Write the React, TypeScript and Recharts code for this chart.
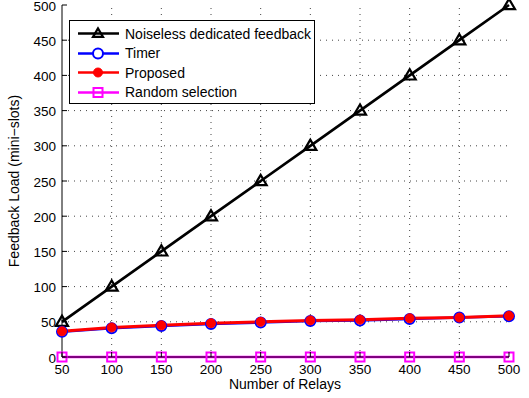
import React from "react";
import { LineChart, Line, XAxis, YAxis, ReferenceLine, Legend, Label } from "recharts";

const relays = [50, 100, 150, 200, 250, 300, 350, 400, 450, 500];
const noiseless = [50, 100, 150, 200, 250, 300, 350, 400, 450, 500];
const timer = [36, 41, 44, 47, 49, 51, 52, 54, 56, 58];
const proposed = [36.5, 42, 45, 48, 50, 52, 53, 55, 56, 58.5];
const randomSel = [0, 0, 0, 0, 0, 0, 0, 0, 0, 0];
const xTicks = [50, 100, 150, 200, 250, 300, 350, 400, 450, 500];
const yTicks = [0, 50, 100, 150, 200, 250, 300, 350, 400, 450, 500];

const seriesNames = ["Noiseless dedicated feedback", "Timer", "Proposed", "Random selection"];

const data = relays.map((r, i) => ({
  relays: r,
  noiseless: noiseless[i],
  timer: timer[i],
  proposed: proposed[i],
  random: randomSel[i],
}));

const FONT = "'Liberation Sans', Arial, Helvetica, sans-serif";
const TICK = 5;
const TICKFS = 13.5;
const LABELFS = 14;
const GRID = "#444";

const Tri = ({ cx, cy, size = 10 }: any) => {
  const h = size * 0.85;
  return (
    <polygon
      points={`${cx},${cy - h * 0.6} ${cx - size / 2},${cy + h * 0.4} ${cx + size / 2},${cy + h * 0.4}`}
      fill="none"
      stroke="#000"
      strokeWidth={2.2}
      strokeLinejoin="miter"
    />
  );
};
const BlueCircle = ({ cx, cy }: any) => (
  <circle cx={cx} cy={cy} r={5} fill="#fff" stroke="#0000ff" strokeWidth={2} />
);
const RedDot = ({ cx, cy }: any) => (
  <circle cx={cx} cy={cy} r={4.5} fill="#ff0000" stroke="#ff0000" strokeWidth={1} />
);
const MagSquare = ({ cx, cy }: any) => (
  <rect x={cx - 4.5} y={cy - 4.5} width={9} height={9} fill="none" stroke="#ff00ff" strokeWidth={2} />
);

const XTickBottom = ({ x, y, payload }: any) => (
  <g>
    <line x1={x} x2={x} y1={y} y2={y - TICK} stroke="#000" strokeWidth={1} />
    <text x={x} y={y + 16.5} textAnchor="middle" fontSize={TICKFS} fontFamily={FONT} fill="#000">
      {payload.value}
    </text>
  </g>
);
const XTickTop = ({ x, y }: any) => (
  <line x1={x} x2={x} y1={y} y2={y + TICK} stroke="#000" strokeWidth={1} />
);
const YTickLeft = ({ x, y, payload }: any) => (
  <g>
    <line x1={x} x2={x + TICK} y1={y} y2={y} stroke="#000" strokeWidth={1} />
    <text x={x - 6} y={y + 5.5} textAnchor="end" fontSize={TICKFS} fontFamily={FONT} fill="#000">
      {payload.value}
    </text>
  </g>
);
const YTickRight = ({ x, y }: any) => (
  <line x1={x} x2={x - TICK} y1={y} y2={y} stroke="#000" strokeWidth={1} />
);

const LegendBox = () => {
  const rows = [
    { color: "#000", marker: "tri" },
    { color: "#0000ff", marker: "circle" },
    { color: "#ff0000", marker: "dot" },
    { color: "#ff00ff", marker: "square" },
  ];
  return (
    <div
      style={{
        border: "1px solid #000",
        background: "#fff",
        width: 246,
        height: 84,
        boxSizing: "border-box",
        paddingTop: 3,
        fontFamily: FONT,
        fontSize: LABELFS,
        color: "#000",
      }}
    >
      {rows.map((r, i) => (
        <div key={i} style={{ display: "flex", alignItems: "center", height: 19.5 }}>
          <svg width={55} height={19} style={{ display: "block" }}>
            <line x1={8} x2={49} y1={9.5} y2={9.5} stroke={r.color} strokeWidth={2.5} />
            {r.marker === "tri" && <Tri cx={28} cy={9.5} size={10} />}
            {r.marker === "circle" && <BlueCircle cx={28} cy={9.5} />}
            {r.marker === "dot" && <RedDot cx={28} cy={9.5} />}
            {r.marker === "square" && <MagSquare cx={28} cy={9.5} />}
          </svg>
          <span style={{ whiteSpace: "nowrap" }}>{seriesNames[i]}</span>
        </div>
      ))}
    </div>
  );
};

export default function App() {
  const innerX = xTicks.slice(1, -1);
  const innerY = yTicks.slice(1, -1);
  return (
    <div style={{ position: "absolute", left: 0, top: 0, width: 529, height: 398, background: "#fff" }}>
      <LineChart
        width={529}
        height={398}
        data={data}
        margin={{ top: 5, right: 20, bottom: 0, left: 0 }}
      >
        <XAxis
          xAxisId="b"
          dataKey="relays"
          type="number"
          domain={[50, 500]}
          ticks={xTicks}
          height={41}
          tickSize={0}
          tickMargin={0}
          tickLine={false}
          axisLine={{ stroke: "#000", strokeWidth: 1 }}
          tick={<XTickBottom />}
          interval={0}
        >
          <Label
            content={() => (
              <text x={285} y={389} textAnchor="middle" fontSize={LABELFS} fontFamily={FONT} fill="#000">
                Number of Relays
              </text>
            )}
          />
        </XAxis>
        <XAxis
          xAxisId="t"
          orientation="top"
          dataKey="relays"
          type="number"
          domain={[50, 500]}
          ticks={xTicks}
          height={0}
          tickSize={0}
          tickMargin={0}
          tickLine={false}
          axisLine={{ stroke: "#000", strokeWidth: 1 }}
          tick={<XTickTop />}
          interval={0}
        />
        <YAxis
          yAxisId="l"
          type="number"
          domain={[0, 500]}
          ticks={yTicks}
          width={62}
          tickSize={0}
          tickMargin={0}
          tickLine={false}
          axisLine={{ stroke: "#000", strokeWidth: 1 }}
          tick={<YTickLeft />}
          interval={0}
        >
          <Label
            content={() => (
              <text
                x={14}
                y={181}
                transform="rotate(-90 14 181)"
                textAnchor="middle"
                dominantBaseline="central"
                fontSize={LABELFS}
                fontFamily={FONT}
                fill="#000"
              >
                Feedback Load (mini−slots)
              </text>
            )}
          />
        </YAxis>
        <YAxis
          yAxisId="r"
          orientation="right"
          type="number"
          domain={[0, 500]}
          ticks={yTicks}
          width={0}
          tickSize={0}
          tickMargin={0}
          tickLine={false}
          axisLine={{ stroke: "#000", strokeWidth: 1 }}
          tick={<YTickRight />}
          interval={0}
        />
        {innerX.map((v) => (
          <ReferenceLine
            key={"gx" + v}
            x={v}
            xAxisId="b"
            yAxisId="l"
            stroke={GRID}
            strokeWidth={1}
            strokeDasharray="1 5"
          />
        ))}
        {innerY.map((v) => (
          <ReferenceLine
            key={"gy" + v}
            y={v}
            xAxisId="b"
            yAxisId="l"
            stroke={GRID}
            strokeWidth={1}
            strokeDasharray="1 5"
          />
        ))}
        <Legend
          layout="horizontal"
          verticalAlign="middle"
          align="center"
          content={() => <LegendBox />}
          wrapperStyle={{ position: "absolute", left: 69, top: 20, width: 246, height: 84 }}
        />
        <Line
          xAxisId="b"
          yAxisId="l"
          dataKey="noiseless"
          name={seriesNames[0]}
          stroke="#000"
          strokeWidth={2.7}
          dot={<Tri size={12} />}
          isAnimationActive={false}
        />
        <Line
          xAxisId="b"
          yAxisId="l"
          dataKey="timer"
          name={seriesNames[1]}
          stroke="#0000ff"
          strokeWidth={2.5}
          dot={<BlueCircle />}
          isAnimationActive={false}
        />
        <Line
          xAxisId="b"
          yAxisId="l"
          dataKey="proposed"
          name={seriesNames[2]}
          stroke="#ff0000"
          strokeWidth={3}
          dot={<RedDot />}
          isAnimationActive={false}
        />
        <Line
          xAxisId="b"
          yAxisId="l"
          dataKey="random"
          name={seriesNames[3]}
          stroke="#ff00ff"
          strokeWidth={2.5}
          dot={<MagSquare />}
          isAnimationActive={false}
        />
      </LineChart>
    </div>
  );
}
